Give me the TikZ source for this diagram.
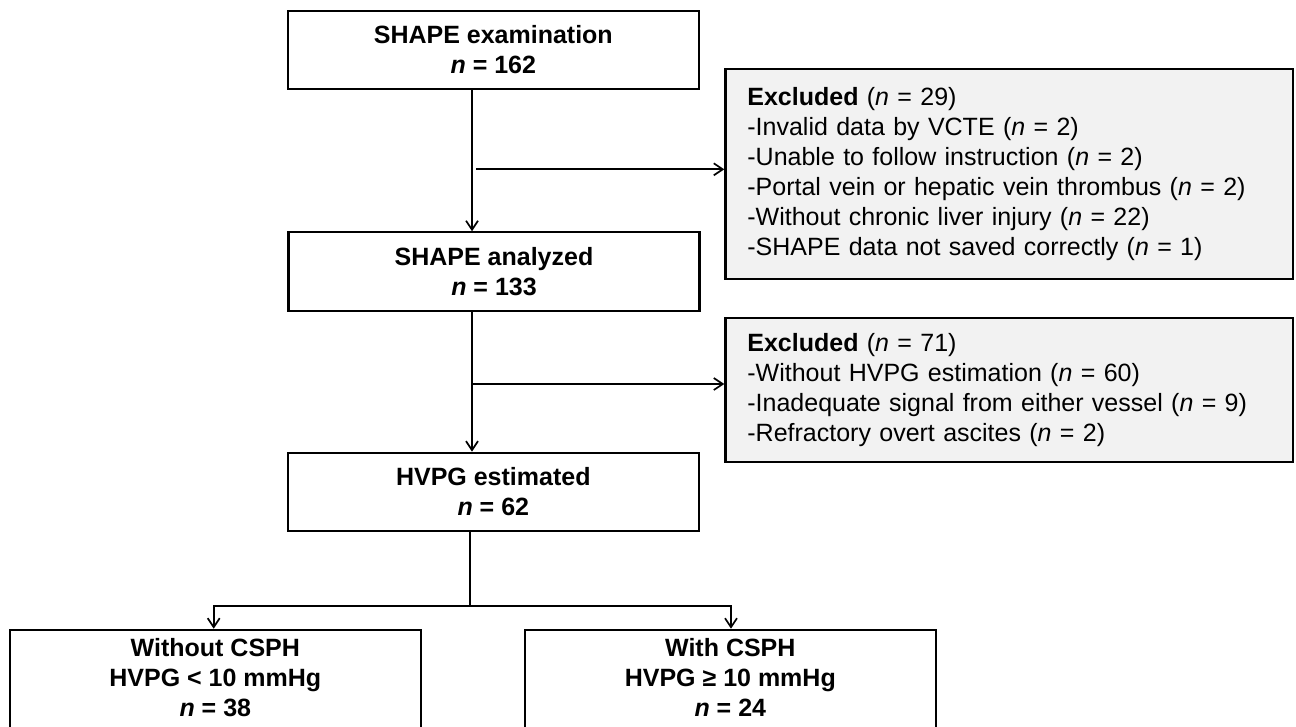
\documentclass[tikz,border=0pt]{standalone}
\usepackage{fontspec}
\setmainfont{Liberation Sans}
\usetikzlibrary{arrows.meta}
\definecolor{exgray}{HTML}{F2F2F2}
\begin{document}
\begin{tikzpicture}[x=1pt,y=-1pt,
  box/.style={draw=black, line width=2.2pt, minimum width=411pt, minimum height=78.3pt, align=center,
    font=\bfseries\fontsize{25}{30}\selectfont, inner sep=0pt},
  exbox/.style={draw=black, line width=2.2pt, fill=exgray, minimum width=567.7pt, text width=523.7pt,
    align=left, inner xsep=22pt, inner ysep=0pt, font=\fontsize{25}{30}\selectfont, anchor=north west},
  conn/.style={line width=1.7pt, draw=black},
  arr/.style={conn, -{Straight Barb[length=9pt,width=12pt,line width=1.7pt]}}
]
\useasboundingbox (0,0) rectangle (1296,726);
\fill[white] (0,0) rectangle (1296,726);

\node[box] (b1) at (493.3,49.9) {SHAPE examination\\\textit{n} = 162};
\node[box] (b2) at (494,271.5) {SHAPE analyzed\\\textit{n} = 133};
\node[box] (b3) at (493.3,491.9) {HVPG estimated\\\textit{n} = 62};
\node[box, anchor=north, inner ysep=8.7pt] (b4) at (215.3,628.7)
  {Without CSPH\\HVPG < 10 mmHg\\\textit{n} = 38\rule[-16pt]{0pt}{1pt}};
\node[box, anchor=north, inner ysep=8.7pt] (b5) at (730.3,628.7)
  {With CSPH\\HVPG ≥ 10 mmHg\\\textit{n} = 24\rule[-16pt]{0pt}{1pt}};

\node[exbox, minimum height=210.3pt] (ex1) at (724.3,67.7)
  {\textbf{Excluded} (\textit{n} = 29)\\
   -Invalid data by VCTE (\textit{n} = 2)\\
   -Unable to follow instruction (\textit{n} = 2)\\
   -Portal vein or hepatic vein thrombus (\textit{n} = 2)\\
   -Without chronic liver injury (\textit{n} = 22)\\
   -SHAPE data not saved correctly (\textit{n} = 1)};
\node[exbox, minimum height=144pt] (ex2) at (724.3,316.7)
  {\textbf{Excluded} (\textit{n} = 71)\\
   -Without HVPG estimation (\textit{n} = 60)\\
   -Inadequate signal from either vessel (\textit{n} = 9)\\
   -Refractory overt ascites (\textit{n} = 2)};

\coordinate (s1) at (472,0);
\coordinate (h1) at (476,169.3);
\coordinate (h2) at (472,384);
\coordinate (j) at (470,606);
\coordinate (jl) at (213.7,606);
\coordinate (jr) at (731,606);

\draw[arr] (b1.south -| s1) -- (b2.north -| s1);
\draw[arr] (b2.south -| s1) -- (b3.north -| s1);
\draw[arr] (h1) -- (h1 -| ex1.west);
\draw[arr] (h2) -- (h2 -| ex2.west);
\draw[arr] (b3.south -| j) -- (j) -- (jl) -- (jl |- b4.north);
\draw[arr] (j) -- (jr) -- (jr |- b5.north);
\end{tikzpicture}
\end{document}
